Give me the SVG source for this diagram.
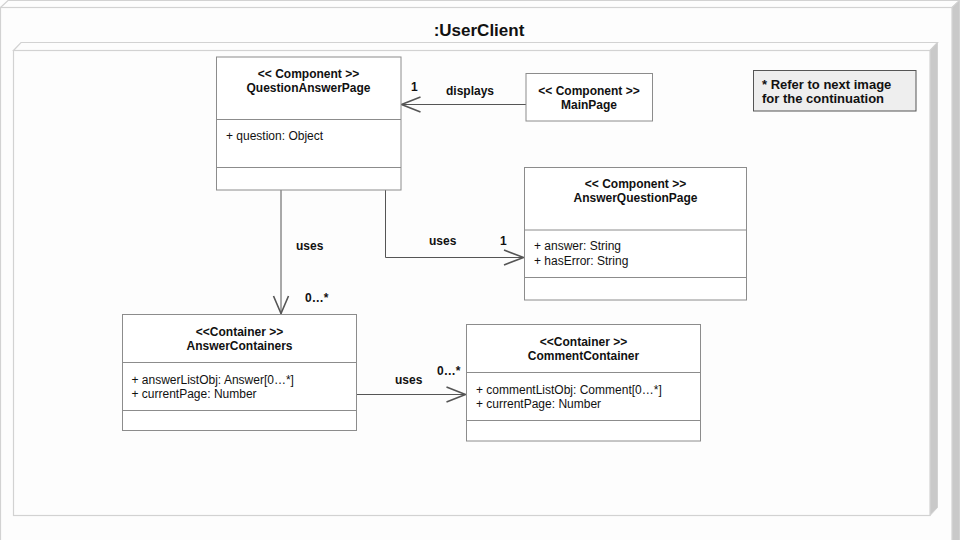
<svg xmlns="http://www.w3.org/2000/svg" width="960" height="540" viewBox="0 0 960 540">
  <style>
    .face { fill: #fdfdfd; stroke: #d2d2d2; stroke-width: 1.2; }
    .side { fill: #c9c9c9; stroke: #d2d2d2; stroke-width: 1; }
    .cls { fill: #ffffff; stroke: #8c8c8c; stroke-width: 1; }
    .div { stroke: #8c8c8c; stroke-width: 1; }
    .hd { font-family: "Liberation Sans", Arial, sans-serif; font-size: 12px; font-weight: bold; fill: #111; text-anchor: middle; }
    .at { font-family: "Liberation Sans", Arial, sans-serif; font-size: 12px; fill: #111; }
    .lbl { font-family: "Liberation Sans", Arial, sans-serif; font-size: 12px; font-weight: bold; fill: #111; }
    .conn { fill: none; stroke: #555; stroke-width: 1; }
    .head { fill: none; stroke: #555; stroke-width: 1.6; }
  </style>

  <rect x="0" y="0" width="960" height="540" fill="#fdfdfd"/>

  <!-- outer node :UserClient -->
  <g id="userclient">
    <polygon class="face" points="0.5,7.5 8,0.5 959.5,0.5 952,7.5"/>
    <polygon class="side" points="952,7.5 959.5,0.5 959.5,541 952,548"/>
    <rect class="face" x="0.5" y="7.5" width="951.5" height="545"/>
    <text x="479" y="36" font-family="Liberation Sans, Arial, sans-serif" font-size="17" font-weight="bold" fill="#111" text-anchor="middle">:UserClient</text>
  </g>

  <!-- inner node -->
  <g id="inner-node">
    <polygon class="face" points="13.5,50.5 21,42.5 937.5,42.5 930,50.5"/>
    <polygon class="side" points="930,50.5 937.5,42.5 937.5,507.5 930,515.5"/>
    <rect class="face" x="13.5" y="50.5" width="916.5" height="465"/>
  </g>

  <!-- connectors -->
  <g id="connectors">
    <!-- MainPage displays QuestionAnswerPage -->
    <line class="conn" x1="526" y1="104.5" x2="401" y2="104.5"/>
    <polyline class="head" points="420.5,97 401.5,104.5 420.5,112"/>
    <text class="lbl" x="446" y="95">displays</text>
    <text class="lbl" x="411" y="91">1</text>

    <!-- QuestionAnswerPage uses AnswerQuestionPage -->
    <polyline class="conn" points="385.5,190 385.5,257.5 524,257.5"/>
    <polyline class="head" points="504,250 523.5,257.5 504,265"/>
    <text class="lbl" x="429" y="245">uses</text>
    <text class="lbl" x="500" y="245">1</text>

    <!-- QuestionAnswerPage uses AnswerContainers -->
    <line class="conn" x1="281" y1="190" x2="281" y2="314"/>
    <polyline class="head" points="273.5,296 281,313.5 288.5,296"/>
    <text class="lbl" x="296" y="250">uses</text>
    <text class="lbl" x="305" y="302">0…*</text>

    <!-- AnswerContainers uses CommentContainer -->
    <line class="conn" x1="357" y1="394.5" x2="466" y2="394.5"/>
    <polyline class="head" points="446.5,387 465.5,394.5 446.5,402"/>
    <text class="lbl" x="395" y="384">uses</text>
    <text class="lbl" x="437" y="375">0…*</text>
  </g>

  <!-- QuestionAnswerPage -->
  <g id="question-answer-page">
    <rect class="cls" x="216.5" y="57" width="184.5" height="133"/>
    <line class="div" x1="216.5" y1="119.5" x2="401" y2="119.5"/>
    <line class="div" x1="216.5" y1="167.5" x2="401" y2="167.5"/>
    <text class="hd" x="308.5" y="78">&lt;&lt; Component &gt;&gt;</text>
    <text class="hd" x="308.5" y="92">QuestionAnswerPage</text>
    <text class="at" x="226" y="140">+ question: Object</text>
  </g>

  <!-- MainPage -->
  <g id="main-page">
    <rect class="cls" x="526" y="73.5" width="126.5" height="47.5"/>
    <text class="hd" x="589" y="95">&lt;&lt; Component &gt;&gt;</text>
    <text class="hd" x="589" y="109">MainPage</text>
  </g>

  <!-- AnswerQuestionPage -->
  <g id="answer-question-page">
    <rect class="cls" x="524.5" y="167.5" width="222" height="132.5"/>
    <line class="div" x1="524.5" y1="230" x2="746.5" y2="230"/>
    <line class="div" x1="524.5" y1="277.5" x2="746.5" y2="277.5"/>
    <text class="hd" x="635.5" y="188">&lt;&lt; Component &gt;&gt;</text>
    <text class="hd" x="635.5" y="202">AnswerQuestionPage</text>
    <text class="at" x="534" y="250">+ answer: String</text>
    <text class="at" x="534" y="265">+ hasError: String</text>
  </g>

  <!-- AnswerContainers -->
  <g id="answer-containers">
    <rect class="cls" x="122.5" y="314.5" width="234" height="116"/>
    <line class="div" x1="122.5" y1="362.5" x2="356.5" y2="362.5"/>
    <line class="div" x1="122.5" y1="410.5" x2="356.5" y2="410.5"/>
    <text class="hd" x="239.5" y="336">&lt;&lt;Container &gt;&gt;</text>
    <text class="hd" x="239.5" y="350">AnswerContainers</text>
    <text class="at" x="131.5" y="384">+ answerListObj: Answer[0…*]</text>
    <text class="at" x="131.5" y="397.5">+ currentPage: Number</text>
  </g>

  <!-- CommentContainer -->
  <g id="comment-container">
    <rect class="cls" x="466.5" y="324.5" width="234" height="116.5"/>
    <line class="div" x1="466.5" y1="372.5" x2="700.5" y2="372.5"/>
    <line class="div" x1="466.5" y1="420.5" x2="700.5" y2="420.5"/>
    <text class="hd" x="583.5" y="346">&lt;&lt;Container &gt;&gt;</text>
    <text class="hd" x="583.5" y="360">CommentContainer</text>
    <text class="at" x="476" y="394">+ commentListObj: Comment[0…*]</text>
    <text class="at" x="476" y="407.5">+ currentPage: Number</text>
  </g>

  <!-- note -->
  <g id="note">
    <rect x="753.5" y="70.5" width="162.5" height="40.5" fill="#eeeeee" stroke="#555" stroke-width="1"/>
    <text x="762" y="88.5" font-family="Liberation Sans, Arial, sans-serif" font-size="13" font-weight="bold" fill="#111">* Refer to next image</text>
    <text x="762" y="103" font-family="Liberation Sans, Arial, sans-serif" font-size="13" font-weight="bold" fill="#111">for the continuation</text>
  </g>
</svg>
